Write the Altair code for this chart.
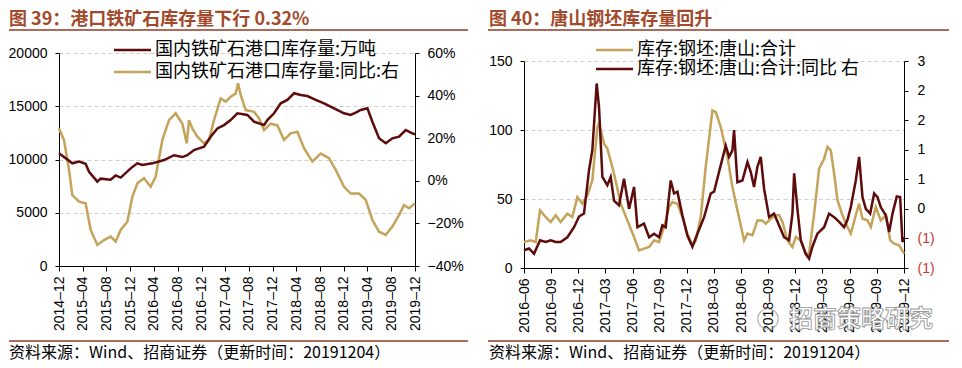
import altair as alt
import pandas as pd

# ---------------- data ----------------
# Left panel: month offsets from 2014-12
ore_stock_m = [0, 2.25, 3.37, 4.49, 5.06, 6.46, 7.02, 8.71, 9.55, 10.39, 12.08, 13.2, 14.04, 15.73,
               17.7, 19.38, 20.79, 21.63, 22.75, 24.44, 25.56, 26.69, 27.81, 28.93, 30.06, 31.74,
               32.87, 34.55, 35.11, 36.24, 37.36, 38.48, 39.61, 40.73, 41.85, 43.26, 44.66, 46.35,
               48.03, 49.16, 50.0, 50.84, 51.97, 52.81, 53.93, 55.06, 56.18, 57.3, 58.43, 59.27, 60]
ore_stock_v = [10580, 9640, 9800, 9600, 8850, 7920, 8200, 8100, 8500, 8300, 9170, 9640, 9480, 9640,
               9950, 10400, 10230, 10400, 10890, 11200, 12140, 12920, 13230, 13700, 14340, 14180,
               13550, 13230, 13700, 14340, 15280, 15600, 16220, 16060, 15960, 15600, 15280, 14810,
               14340, 14180, 14400, 14650, 14810, 13550, 11990, 11520, 11990, 12140, 12770, 12520, 12360]
ore_yoy_m = [0, 0.84, 1.69, 2.25, 3.37, 4.49, 5.34, 6.46, 7.58, 8.71, 9.55, 10.39, 11.52, 12.36, 13.2,
             14.33, 15.45, 16.29, 17.42, 18.54, 19.66, 20.79, 21.52, 21.91, 22.47, 23.31, 24.44, 25.28,
             26.12, 27.25, 28.09, 28.93, 29.78, 30.17, 30.62, 31.46, 32.87, 33.71, 34.55, 35.67, 36.8,
             37.92, 39.04, 40.17, 41.29, 42.7, 44.1, 45.51, 46.63, 48.03, 49.16, 50.56, 51.69, 52.81,
             53.93, 55.06, 56.18, 57.3, 58.15, 58.99, 60]
ore_yoy_v = [24.6, 19.2, 5.1, -6.7, -9.8, -10.6, -23.1, -30.1, -27.8, -26.2, -28.5, -23.1, -19.2, -7.5,
             -1.2, 1.2, -2.8, 2.0, 19.2, 28.5, 31.7, 26.8, 17.6, 28.5, 24.6, 20.7, 17.6, 19.2, 28.5,
             38.7, 37.2, 39.5, 41.0, 45.8, 40.3, 33.2, 32.4, 29.3, 23.8, 26.8, 26.0, 19.2, 22.3, 23.0,
             15.3, 9.0, 12.8, 10.6, 5.1, -2.8, -6.0, -6.0, -9.0, -18.4, -23.9, -25.4, -21.5, -16.1,
             -11.4, -12.9, -10.6]

# Right panel: month offsets from 2016-06
billet_stock_m = [0, 0.74, 1.29, 1.77, 2.39, 2.95, 3.5, 4.05, 4.79, 5.34, 5.9, 6.45, 7.0, 7.55, 8.11,
                  8.29, 8.84, 9.21, 9.95, 10.69, 11.42, 12.16, 12.71, 13.26, 13.82, 14.37, 14.92, 15.48,
                  16.03, 16.4, 16.95, 17.5, 18.05, 18.61, 18.98, 19.53, 20.08, 20.82, 21.19, 21.74,
                  22.48, 23.03, 23.58, 24.32, 24.69, 25.24, 25.79, 26.34, 26.71, 27.27, 27.82, 28.19,
                  28.56, 29.11, 29.66, 30.03, 30.58, 31.13, 31.5, 32.06, 32.61, 33.16, 33.53, 33.9,
                  34.27, 34.64, 35.19, 35.74, 36.11, 36.66, 37.03, 37.4, 37.95, 38.32, 38.87, 39.42,
                  39.98, 40.46, 40.9, 41.45, 42]
billet_stock_v = [18.8, 20, 18.8, 41.8, 37, 33.3, 38.2, 33.3, 39.4, 37, 51.4, 46.6, 52.6, 63.5, 102,
                  104.6, 90.1, 86.5, 68.3, 46.6, 34.5, 22.5, 12.8, 14, 15.2, 20, 18.8, 29.7, 44.2, 47.8,
                  46.6, 37, 24.9, 16.4, 20, 37, 73.2, 114.2, 113, 102.2, 80.4, 58.7, 41.8, 20, 24.9,
                  23.7, 34.5, 34.5, 32.1, 35.7, 38.2, 38.2, 33.3, 20, 15.2, 22.5, 20, 10.4, 10.4, 39.4,
                  72, 79.2, 87.7, 85.2, 68.3, 49, 38.2, 29.7, 24.9, 38.2, 46.6, 35.7, 34.5, 29.7, 44.2,
                  34.5, 38.2, 20, 17.6, 16.4, 10.4]
billet_yoy_m = [0, 0.55, 1.11, 1.77, 2.39, 2.95, 3.5, 4.05, 4.79, 5.53, 6.08, 6.63, 7.18, 7.55, 8.03,
                8.29, 8.66, 9.21, 9.58, 9.95, 10.5, 11.05, 11.61, 12.16, 12.53, 12.9, 13.26, 13.82,
                14.37, 14.92, 15.29, 15.66, 16.21, 16.58, 16.95, 17.5, 18.05, 18.61, 19.16, 19.9,
                20.63, 21.0, 21.74, 22.29, 22.66, 23.03, 23.21, 23.58, 24.13, 24.69, 25.06, 25.42,
                25.79, 26.16, 26.53, 27.08, 27.63, 28.19, 28.74, 29.29, 29.66, 29.85, 30.21, 30.58,
                31.13, 31.5, 31.87, 32.42, 33.16, 33.71, 34.27, 34.82, 35.37, 35.74, 36.11, 36.66,
                37.03, 37.4, 37.77, 38.25, 38.69, 39.06, 39.42, 39.98, 40.35, 40.72, 41.19, 41.56,
                41.82, 42]
billet_yoy_v = [-0.70, -0.67, -0.76, -0.53, -0.56, -0.53, -0.56, -0.56, -0.48, -0.31, -0.13, -0.08,
                0.65, 0.99, 2.12, 1.72, 0.54, 0.40, 0.54, 0.14, 0.06, 0.51, 0.0, 0.37, -0.31, -0.28,
                -0.25, -0.48, -0.42, -0.48, -0.28, -0.31, 0.48, 0.26, 0.29, -0.11, -0.45, -0.64,
                -0.42, -0.14, 0.26, 0.29, 0.74, 1.07, 0.88, 0.99, 1.33, 0.45, 0.48, 0.79, 0.62, 0.37,
                0.71, 0.88, 0.34, -0.14, -0.08, -0.28, -0.48, -0.53, -0.08, 0.60, 0.0, -0.53, -0.76,
                -0.84, -0.64, -0.42, -0.31, -0.08, -0.14, -0.22, -0.31, -0.19, 0.03, 0.48, 0.88,
                0.20, 0.0, -0.08, 0.26, 0.20, 0.03, -0.11, -0.39, -0.08, 0.21, 0.20, -0.56, -0.48]

left_ticks = ["2014-12", "2015-04", "2015-08", "2015-12", "2016-04", "2016-08", "2016-12", "2017-04",
              "2017-08", "2017-12", "2018-04", "2018-08", "2018-12", "2019-04", "2019-08", "2019-12"]
right_ticks = ["2016-06", "2016-09", "2016-12", "2017-03", "2017-06", "2017-09", "2017-12", "2018-03",
               "2018-06", "2018-09", "2018-12", "2019-03", "2019-06", "2019-09", "2019-12"]

left_series = ["国内铁矿石港口库存量:万吨", "国内铁矿石港口库存量:同比:右"]
right_series = ["库存:钢坯:唐山:合计", "库存:钢坯:唐山:合计:同比 右"]
left_title = "图 39：港口铁矿石库存量下行 0.32%"
right_title = "图 40：唐山钢坯库存量回升"
source_text = "资料来源：Wind、招商证券（更新时间：20191204）"
watermark = "招商策略研究"

# ---------------- styling ----------------
FONT = "Liberation Sans"
CJK = "Noto Sans CJK SC"
DARK = "#5E0B0B"
GOLD = "#C4A35A"
TITLE_C = "#A24A2B"
RULE_C = "#8F3B26"
NEG_C = "#C8372D"


def to_dates(start, months):
    s = pd.Timestamp(start)
    return [s + pd.Timedelta(days=m * 30.4375) for m in months]


def dt(s):
    y, m = s.split("-")
    return alt.DateTime(year=int(y), month=int(m), date=1)


def x_axis(ticks):
    return alt.Axis(values=[dt(t) for t in ticks], format="%Y–%m", labelAngle=270, grid=False,
                    tickSize=5, labelPadding=5, title=None, labelFont=FONT, labelFontSize=14,
                    domainColor="black", tickColor="black", labelColor="black")


def decorations(title, rule_x1, rule_x2, text_x):
    one = pd.DataFrame({"t": [title]})
    src = pd.DataFrame({"t": [source_text]})
    dummy = pd.DataFrame({"a": [0]})
    t = alt.Chart(one).mark_text(align="left", baseline="alphabetic", font=CJK, fontSize=18,
                                 fontWeight="bold", color=TITLE_C).encode(
        text="t:N", x=alt.value(text_x), y=alt.value(-28))
    r1 = alt.Chart(dummy).mark_rule(color=RULE_C, strokeWidth=1.5).encode(
        x=alt.value(rule_x1), x2=alt.value(rule_x2), y=alt.value(-23))
    r2 = alt.Chart(dummy).mark_rule(color=RULE_C, strokeWidth=1.5).encode(
        x=alt.value(rule_x1), x2=alt.value(rule_x2), y=alt.value(288))
    s = alt.Chart(src).mark_text(align="left", baseline="middle", font=CJK, fontSize=16,
                                 color="black").encode(
        text="t:N", x=alt.value(text_x), y=alt.value(300))
    return [t, r1, r2, s]


def legend_items(names, colors, x0, ys):
    items = []
    for name, col, yy in zip(names, colors, ys):
        items.append(alt.Chart(pd.DataFrame({"a": [0]})).mark_rule(color=col, strokeWidth=2.5).encode(
            x=alt.value(x0), x2=alt.value(x0 + 37), y=alt.value(yy)))
        items.append(alt.Chart(pd.DataFrame({"t": [name]})).mark_text(
            align="left", baseline="middle", font=CJK, fontSize=18, color="black").encode(
            text="t:N", x=alt.value(x0 + 41), y=alt.value(yy)))
    return items


# ---------------- left panel ----------------
L0 = "2014-12-01"
df_ls = pd.DataFrame({"date": to_dates(L0, ore_stock_m), "v": ore_stock_v, "s": left_series[0]})
df_ly = pd.DataFrame({"date": to_dates(L0, ore_yoy_m), "v": ore_yoy_v, "s": left_series[1]})
lx_scale = alt.Scale(domain=[dt("2014-12"), dt("2019-12")])
l_color = alt.Color("s:N", scale=alt.Scale(domain=left_series, range=[DARK, GOLD]), legend=None)

l_yoy = alt.Chart(df_ly).mark_line(strokeWidth=2.5).encode(
    x=alt.X("date:T", scale=lx_scale, axis=x_axis(left_ticks)),
    y=alt.Y("v:Q", scale=alt.Scale(domain=[-40, 60]),
            axis=alt.Axis(orient="right", values=[-40, -20, 0, 20, 40, 60], grid=False,
                          labelExpr="(datum.value < 0 ? '−' : '') + abs(datum.value) + '%'",
                          tickSize=4, labelPadding=8, title=None, labelFont=FONT,
                          labelFontSize=14, domainColor="black", tickColor="black",
                          labelColor="black")),
    color=l_color)
l_stock = alt.Chart(df_ls).mark_line(strokeWidth=2.5).encode(
    x=alt.X("date:T", scale=lx_scale, axis=x_axis(left_ticks)),
    y=alt.Y("v:Q", scale=alt.Scale(domain=[0, 20000]),
            axis=alt.Axis(orient="left", values=[0, 5000, 10000, 15000, 20000], format="d",
                          grid=True, gridColor="#cfcfcf", gridDash=[4, 3], tickSize=4,
                          labelPadding=8, title=None, labelFont=FONT, labelFontSize=14,
                          domainColor="black", tickColor="black", labelColor="black")),
    color=l_color)

left = alt.layer(l_yoy, l_stock, *decorations(left_title, -50, 409, -50),
                 *legend_items(left_series, [DARK, GOLD], 55, [-3, 19])).resolve_scale(
    y="independent").properties(width=356, height=213)

# ---------------- right panel ----------------
R0 = "2016-06-01"
df_rs = pd.DataFrame({"date": to_dates(R0, billet_stock_m), "v": billet_stock_v, "s": right_series[0]})
df_ry = pd.DataFrame({"date": to_dates(R0, billet_yoy_m), "v": billet_yoy_v, "s": right_series[1]})
rx_scale = alt.Scale(domain=[dt("2016-06"), dt("2019-12")])
r_color = alt.Color("s:N", scale=alt.Scale(domain=right_series, range=[GOLD, DARK]), legend=None)

r_stock = alt.Chart(df_rs).mark_line(strokeWidth=2.5).encode(
    x=alt.X("date:T", scale=rx_scale, axis=x_axis(right_ticks)),
    y=alt.Y("v:Q", scale=alt.Scale(domain=[0, 150], range=[215, 8]),
            axis=alt.Axis(orient="left", values=[0, 50, 100, 150], grid=True,
                          gridColor="#cfcfcf", gridDash=[4, 3], tickSize=4, labelPadding=8,
                          title=None, labelFont=FONT, labelFontSize=14, domainColor="black",
                          tickColor="black", labelColor="black")),
    color=r_color)
r_yoy = alt.Chart(df_ry).mark_line(strokeWidth=2.5).encode(
    x=alt.X("date:T", scale=rx_scale, axis=x_axis(right_ticks)),
    y=alt.Y("v:Q", scale=alt.Scale(domain=[-1, 2.5], range=[215, 8]),
            axis=alt.Axis(orient="right", values=[-1, -0.5, 0, 0.5, 1, 1.5, 2, 2.5], grid=False,
                          labelExpr="datum.value < 0 ? '(' + round(abs(datum.value)) + ')' : '' + round(datum.value)",
                          labelColor={"condition": {"test": "datum.value < 0", "value": NEG_C},
                                      "value": "black"},
                          tickSize=4, labelPadding=9, title=None, labelFont=FONT,
                          labelFontSize=14, domainColor="black", tickColor="black")),
    color=r_color)

wm_df = pd.DataFrame({"t": [watermark]})
wm_text = alt.Chart(wm_df).mark_text(align="left", baseline="middle", font=CJK, fontSize=24,
                                     fontWeight="bold", fill="white", stroke="#9a9a9a",
                                     strokeWidth=0.9).encode(
    text="t:N", x=alt.value(265), y=alt.value(267))
wm_logo = alt.Chart(pd.DataFrame({"a": [0]})).mark_point(shape="circle", size=420, filled=False,
                                                        color="#9a9a9a", strokeWidth=1.2).encode(
    x=alt.value(244), y=alt.value(266))

right = alt.layer(r_stock, r_yoy, *decorations(right_title, -36, 425, -35),
                  *legend_items(right_series, [GOLD, DARK], 72, [-3, 16]),
                  wm_logo, wm_text).resolve_scale(y="independent").properties(width=380, height=215)

chart = alt.hconcat(left, right, spacing=109, bounds="flush").resolve_scale(
    color="independent").properties(
    padding={"left": 0, "top": 3, "right": 0, "bottom": 4}, background="white"
).configure_view(stroke=None)

chart.save("out.html", embed_options={"renderer": "svg", "actions": False})
